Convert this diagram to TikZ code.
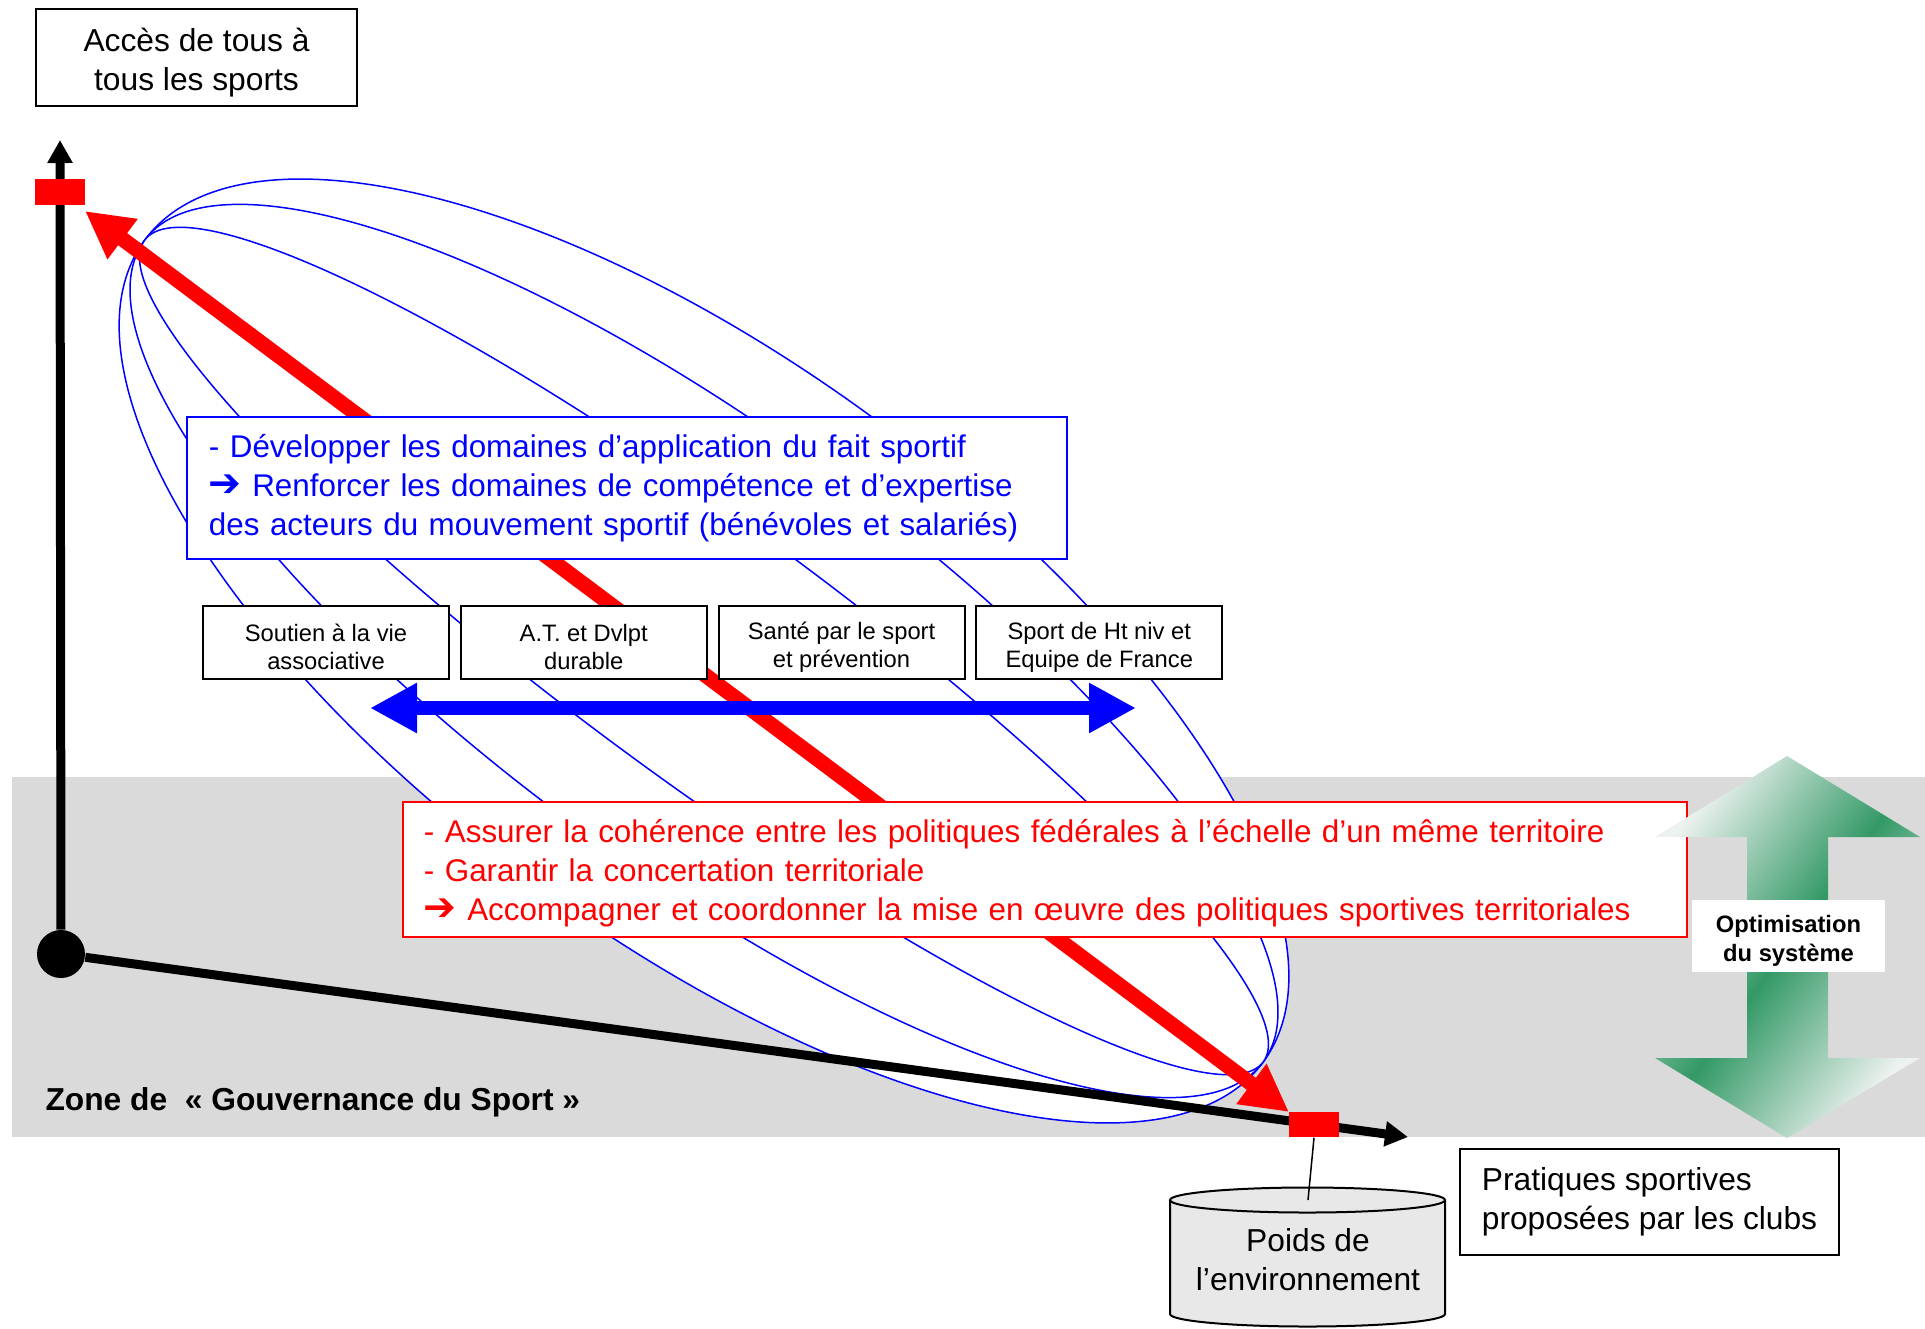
\documentclass[tikz,border=0pt]{standalone}
\usepackage{fontspec}
\setmainfont{Liberation Sans}
\newfontfamily\symfont{DejaVu Sans}
\usepackage{tikz}
\usetikzlibrary{shapes.geometric, arrows.meta}
\newcommand{\bigtxt}{\fontsize{12.7}{15.5}\selectfont}
\newcommand{\boxtxt}{\fontsize{12.55}{15.5}\selectfont}
\newcommand{\smalltxt}{\fontsize{9.5}{11.4}\selectfont}
\newcommand{\thickarrow}{\scalebox{1.25}{\symfont\bfseries ➔}}
\newcommand{\tallstrut}{\rule{0pt}{13.4pt}}
\newcommand{\redstrut}{\rule{0pt}{12.3pt}}
\newcommand{\shortstrut}{\rule{0pt}{10.6pt}}
\definecolor{zonegray}{RGB}{218,218,218}
\definecolor{optgreen}{RGB}{51,153,102}
\definecolor{optlight}{RGB}{236,242,239}
\definecolor{cylgray}{RGB}{232,232,232}
\tikzstyle{blackBox} = [rectangle, draw=black, line width=0.8pt, fill=white, font=\bigtxt]
\tikzstyle{smallBox} = [rectangle, draw=black, line width=0.8pt, fill=white, minimum width=98.4pt, minimum height=29pt, inner sep=1pt, align=center, font=\smalltxt]
\tikzstyle{blueBox} = [rectangle, draw=blue, line width=0.8pt, fill=white, text=blue, text width=334.4pt, inner xsep=8.8pt, minimum height=56.8pt, align=left, font=\boxtxt]
\tikzstyle{redBox} = [rectangle, draw=red, line width=0.6pt, fill=white, text=red, text width=496.8pt, inner xsep=8.4pt, minimum height=54pt, align=left, font=\boxtxt]
\tikzstyle{meridian} = [draw=blue, line width=0.6pt, fill=white]
\tikzstyle{axisLine} = [line width=3.6pt, -{Triangle[length=9.2pt,width=9.6pt]}]
\tikzstyle{redSquare} = [rectangle, fill=red, minimum width=20pt, minimum height=10.2pt, inner sep=0pt]
\tikzstyle{redArrow} = [red, line width=6pt, {Triangle[length=18.8pt,width=18.8pt]}-{Triangle[length=18.8pt,width=18.8pt]}]
\tikzstyle{blueArrow} = [blue, line width=5.7pt, {Triangle[length=18.8pt,width=18.8pt]}-{Triangle[length=18.8pt,width=18.8pt]}]
\tikzstyle{greenShade} = [top color=optlight, bottom color=optlight, middle color=optgreen, shading angle=53.6]
\begin{document}
\begin{tikzpicture}[x=0.4pt, y=-0.4pt, node distance=103.1pt]
		\useasboundingbox (0,0) rectangle (1925,1328);
		% zone de gouvernance
		\fill[zonegray] (12,777) rectangle (1925,1137);
		% meridians
		\coordinate (mid) at (704,651);
		\foreach \b in {288,217,128}
			\draw[meridian, rotate around={-36.3:(mid)}] (mid) ellipse [x radius=694, y radius=\b];
		\coordinate (lowtip) at (1289,1112);
		\coordinate (toptip) at (85,211);
		\draw [redArrow] (lowtip) -- (toptip);
		% text boxes
		\node (develop) [blueBox] at (627,488) {- Développer les domaines d’application du fait sportif\\ \thickarrow{} Renforcer les domaines de compétence et d’expertise\\ des acteurs du mouvement sportif (bénévoles et salariés)};
		\node (assurer) [redBox] at (1045,869.5) {\redstrut- Assurer la cohérence entre les politiques fédérales à l’échelle d’un même territoire\\ - Garantir la concertation territoriale\\ \thickarrow{} Accompagner et coordonner la mise en œuvre des politiques sportives territoriales};
		\node (vie) [smallBox] at (326,642.5) {\shortstrut Soutien à la vie\\associative};
		\node (at) [smallBox, right of=vie] {\shortstrut A.T. et Dvlpt\\durable};
		\node (sante) [smallBox, right of=at] {\shortstrut Santé par le sport\\et prévention};
		\node (haut) [smallBox, right of=sante] {\shortstrut Sport de Ht niv et\\Equipe de France};
		\coordinate (bl) at (370,708);
		\coordinate (br) at (1136,708);
		\draw [blueArrow] (bl) -- (br);
		% axes
		\node (origin) [circle, fill=black, minimum size=19.2pt, inner sep=0pt] at (61,954) {};
		\coordinate (ytip) at (60,140);
		\coordinate (xtip) at (1408,1137);
		\draw [axisLine] (origin) -- (ytip);
		\draw [axisLine] (origin) -- (xtip);
		\node (sqtop) [redSquare] at (60,192) {};
		\node (sqlow) [redSquare] at (1314,1124.5) {};
		% environnement
		\fill[cylgray] (1170,1200) -- (1170,1314) arc[start angle=180, end angle=0, x radius=137.5, y radius=12.5] -- (1445,1200) arc[start angle=0, end angle=-180, x radius=137.5, y radius=12.5] -- cycle;
		\draw[line width=0.8pt] (1170,1200) -- (1170,1314) arc[start angle=180, end angle=0, x radius=137.5, y radius=12.5] -- (1445,1200);
		\draw[line width=0.8pt] (1307.5,1200) ellipse [x radius=137.5, y radius=12.5];
		\node (poids) [font=\bigtxt, align=center] at (1308,1260) {Poids de\\l’environnement};
		\coordinate (poidstop) at (1308,1200);
		\draw [line width=0.6pt] (sqlow.south) -- (poidstop);
		\node (pratiques) [blackBox, align=left, minimum width=151.6pt, minimum height=42.4pt] at (1649.5,1202) {Pratiques sportives\\proposées par les clubs};
		\node (acces) [blackBox, align=center, minimum width=128.4pt, minimum height=38.8pt] at (196.5,57.5) {\tallstrut Accès de tous à\\tous les sports};
		% optimisation
		\shade[greenShade] (1787,756) -- (1920,837) -- (1828,837) -- (1828,1058) -- (1920,1058) -- (1787,1138) -- (1655,1058) -- (1747,1058) -- (1747,837) -- (1655,837) -- cycle;
		\node (optim) [fill=white, minimum width=77.2pt, minimum height=28.8pt, inner sep=1pt, align=center, font=\smalltxt\bfseries] at (1788.5,936) {\shortstrut Optimisation\\du système};
		\node (zone) [anchor=west, inner sep=0pt, font=\bigtxt\bfseries] at (45,1102) {Zone de\ \ « Gouvernance du Sport »};
	\end{tikzpicture}
\end{document}
